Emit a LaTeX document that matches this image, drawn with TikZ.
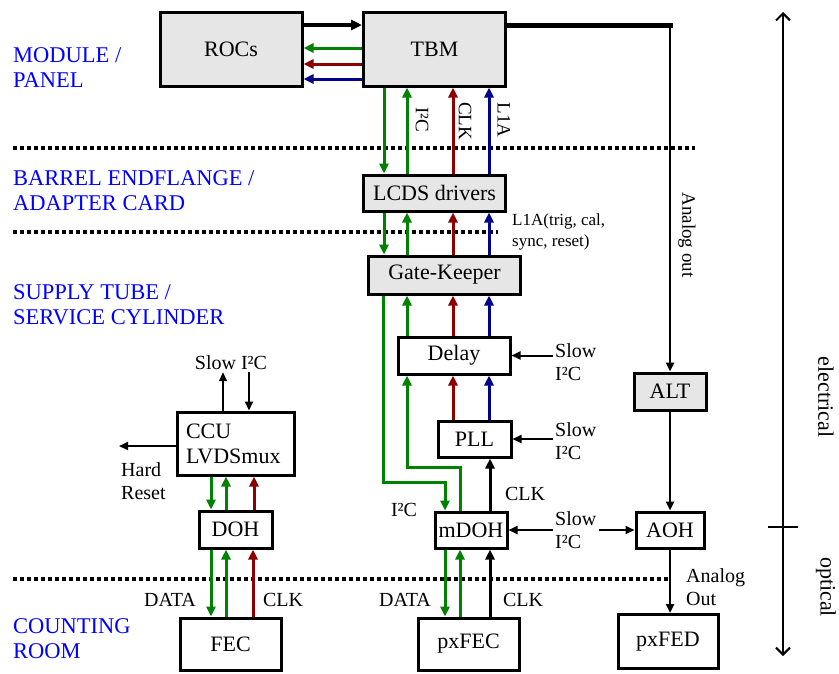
\documentclass[tikz,border=0pt]{standalone}
\usepackage{fontspec}
\setmainfont{Liberation Serif}
\usetikzlibrary{arrows.meta}
\definecolor{dgreen}{RGB}{0,130,0}
\definecolor{dred}{RGB}{140,0,0}
\definecolor{dblue}{RGB}{0,0,140}
\definecolor{boxgray}{RGB}{230,230,230}
\begin{document}
\begin{tikzpicture}[x=1pt,y=-1pt,
  box/.style={draw,line width=3pt,font=\fontsize{22}{25}\selectfont,inner sep=0pt},
  gbox/.style={box,fill=boxgray},
  lbl/.style={font=\fontsize{20}{23}\selectfont,align=left,inner sep=2pt},
  vlbl/.style={font=\fontsize{19}{22}\selectfont,rotate=-90,inner sep=0pt},
  region/.style={font=\fontsize{22.5}{25}\selectfont,text=blue,align=left,anchor=west,inner sep=0pt},
  arr/.style={line width=2pt,-{Triangle[length=9pt,width=8pt]}},
  warr/.style={line width=3pt,-{Triangle[length=10pt,width=9pt]}},
  dots/.style={line width=3.5pt,dash pattern=on 3.5pt off 3.5pt}]
\useasboundingbox (0,0) rectangle (839,673);
\node[gbox,minimum width=142,minimum height=74] (rocs) at (231,49) {ROCs};
\node[gbox,minimum width=142,minimum height=74] (tbm) at (434.5,49) {TBM};
\node[gbox,minimum width=142,minimum height=36] (lcds) at (434.5,193) {LCDS drivers};
\node[gbox,minimum width=152,minimum height=38] (gk) at (444.5,275) {Gate-Keeper};
\node[box,minimum width=112,minimum height=37] (delay) at (454,355.5) {Delay};
\node[box,minimum width=73,minimum height=36] (pll) at (474.5,439) {PLL};
\node[box,minimum width=72,minimum height=36] (mdoh) at (471,530) {mDOH};
\node[gbox,minimum width=72,minimum height=37] (alt) at (670,391.5) {ALT};
\node[box,minimum width=68,minimum height=36] (aoh) at (670,530) {AOH};
\node[box,minimum width=100,minimum height=54] (pxfed) at (668,641.5) {pxFED};
\node[box,minimum width=101,minimum height=52] (fec) at (230.5,644) {FEC};
\node[box,minimum width=101,minimum height=52] (pxfec) at (468.5,644) {pxFEC};
\node[box,minimum width=73,minimum height=37] (doh) at (235.5,529.5) {DOH};
\node[box,minimum width=117,minimum height=63,text width=99,align=left] (ccu) at (235.5,443.5) {CCU\\LVDSmux};
\node[region] (module) at (13,67.5) {MODULE /\\PANEL};
\node[region] (barrel) at (13,190.5) {BARREL ENDFLANGE /\\ADAPTER CARD};
\node[region] (supply) at (13,305) {SUPPLY TUBE /\\SERVICE CYLINDER};
\node[region] (counting) at (13,638.5) {COUNTING\\ROOM};
\node[lbl,anchor=west,font=\fontsize{17}{21}\selectfont] (trig) at (510,232) {L1A(trig, cal,\\sync, reset)};
\node[lbl,anchor=west] (slowd) at (553,362) {Slow\\I²C};
\node[lbl,anchor=west] (slowp) at (553,441) {Slow\\I²C};
\node[lbl,anchor=west] (slowm) at (553,530) {Slow\\I²C};
\node[lbl] (slowc) at (231,363) {Slow I²C};
\node[lbl,anchor=north west] (hard) at (119,460) {Hard\\Reset};
\node[lbl] (i2cm) at (404,510) {I²C};
\node[lbl] (clkm) at (525,494) {CLK};
\node[lbl] (data1) at (170,600) {DATA};
\node[lbl] (clk1) at (283,600) {CLK};
\node[lbl] (data2) at (405,600) {DATA};
\node[lbl] (clk2) at (523,600) {CLK};
\node[lbl,anchor=west] (anout) at (684,587) {Analog\\Out};
\node[vlbl] (i2ct) at (422,120) {I²C};
\node[vlbl] (clkt) at (465,121) {CLK};
\node[vlbl] (l1at) at (504,120) {L1A};
\node[vlbl] (aout) at (687,235) {Analog out};
\node[region,font=\fontsize{22}{25}\selectfont,text=black,anchor=center,rotate=-90] (elec) at (826,397) {electrical};
\node[region,font=\fontsize{22}{25}\selectfont,text=black,anchor=center,rotate=-90] (opt) at (826,587) {optical};
\draw[dots] (13,148) -- (695,148);
\draw[dots] (13,232) -- (498,232);
\draw[dots] (13,579) -- (668,579);
\draw[line width=4pt,-{Triangle[length=11pt,width=10pt]}] (rocs.east |- 0,25) -- (tbm.west |- 0,25);
\draw[warr,dgreen] (tbm.west |- 0,48) -- (rocs.east |- 0,48);
\draw[warr,dred] (tbm.west |- 0,64) -- (rocs.east |- 0,64);
\draw[warr,dblue] (tbm.west |- 0,79) -- (rocs.east |- 0,79);
\draw[line width=5pt] (tbm.east |- 0,25) -- (672.5,25);
\coordinate (bend) at (670,25);
\draw[arr,line width=2.5pt] (bend) -- (alt.north);
\draw[arr,line width=2.5pt] (alt) -- (aoh);
\draw[arr,line width=2.5pt] (aoh.south) -- (aoh.south |- pxfed.north);
\draw[warr,dgreen] (384,0 |- tbm.south) -- (384,0 |- lcds.north);
\draw[warr,dgreen] (407,0 |- lcds.north) -- (407,0 |- tbm.south);
\draw[warr,dred] (453,0 |- lcds.north) -- (453,0 |- tbm.south);
\draw[warr,dblue] (489,0 |- lcds.north) -- (489,0 |- tbm.south);
\draw[warr,dgreen] (384,0 |- lcds.south) -- (384,0 |- gk.north);
\draw[warr,dgreen] (407,0 |- gk.north) -- (407,0 |- lcds.south);
\draw[warr,dred] (453,0 |- gk.north) -- (453,0 |- lcds.south);
\draw[warr,dblue] (489,0 |- gk.north) -- (489,0 |- lcds.south);
\draw[warr,dgreen] (407,0 |- delay.north) -- (407,0 |- gk.south);
\draw[warr,dred] (453,0 |- delay.north) -- (453,0 |- gk.south);
\draw[warr,dblue] (489,0 |- delay.north) -- (489,0 |- gk.south);
\draw[warr,dgreen] (383,0 |- gk.south) |- (445,482) -- (445,0 |- mdoh.north);
\draw[warr,dgreen] (460,0 |- mdoh.north) -- (460,467) -| (407,0 |- delay.south);
\draw[warr,dred] (453,0 |- pll.north) -- (453,0 |- delay.south);
\draw[warr,dblue] (489,0 |- pll.north) -- (489,0 |- delay.south);
\draw[warr] (490,0 |- mdoh.north) -- (490,0 |- pll.south);
\draw[warr,dgreen] (445,0 |- mdoh.south) -- (445,0 |- pxfec.north);
\draw[warr,dgreen] (460,0 |- pxfec.north) -- (460,0 |- mdoh.south);
\draw[warr] (490,0 |- pxfec.north) -- (490,0 |- mdoh.south);
\draw[arr] (slowd.west |- delay.east) -- (delay.east);
\draw[arr] (slowp.west |- pll.east) -- (pll.east);
\draw[arr] (slowm.west) -- (mdoh.east);
\draw[arr] (slowm.east) -- (aoh.west);
\draw[warr,dgreen] (211,0 |- ccu.south) -- (211,0 |- doh.north);
\draw[warr,dgreen] (226,0 |- doh.north) -- (226,0 |- ccu.south);
\draw[warr,dred] (254,0 |- doh.north) -- (254,0 |- ccu.south);
\draw[warr,dgreen] (211,0 |- doh.south) -- (211,0 |- fec.north);
\draw[warr,dgreen] (226,0 |- fec.north) -- (226,0 |- doh.south);
\draw[warr,dred] (253,0 |- fec.north) -- (253,0 |- doh.south);
\draw[arr] ([xshift=-12.5]ccu.north) -- ([xshift=-12.5]ccu.north |- slowc.south);
\draw[arr] ([xshift=13.5]ccu.north |- slowc.south) -- ([xshift=13.5]ccu.north);
\draw[arr] (ccu.west |- 0,446) -- (hard.west |- 0,446);
\draw[line width=2pt,{Straight Barb[length=7pt,width=14pt]}-{Straight Barb[length=7pt,width=14pt]}] (783,12) -- (783,656);
\draw[line width=2pt] (768,527) -- (798,527);
\end{tikzpicture}
\end{document}
